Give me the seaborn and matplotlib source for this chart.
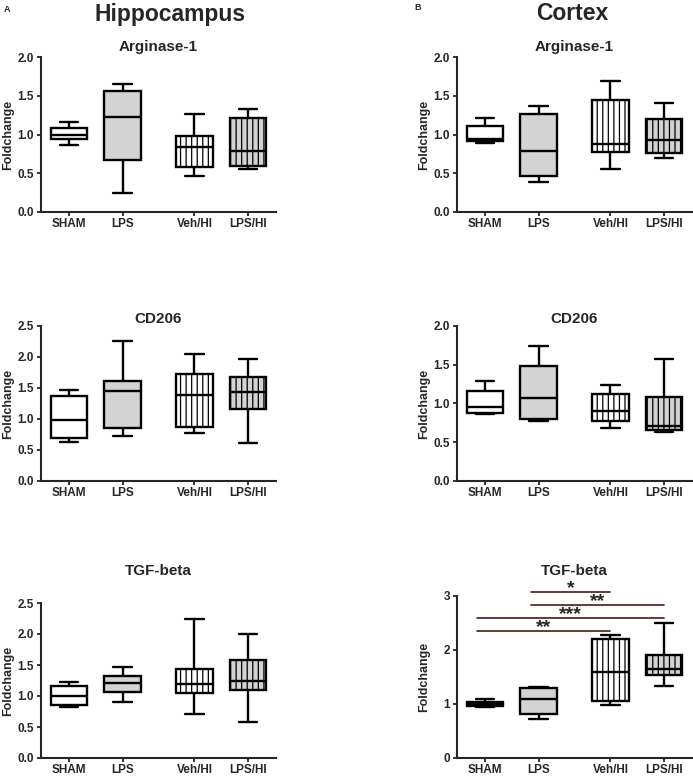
import numpy as np
import pandas as pd
import matplotlib
matplotlib.use("Agg")
import matplotlib.pyplot as plt
import seaborn as sns

# ── Data (five-number summaries: min, Q1, median, Q3, max) ──
groups = ["SHAM", "LPS", "Veh/HI", "LPS/HI"]

hip_arginase = [[0.86, 0.94, 1.00, 1.08, 1.16],
                [0.24, 0.67, 1.22, 1.56, 1.65],
                [0.46, 0.58, 0.84, 0.98, 1.27],
                [0.55, 0.60, 0.79, 1.21, 1.33]]
ctx_arginase = [[0.89, 0.92, 0.94, 1.11, 1.21],
                [0.39, 0.47, 0.79, 1.27, 1.37],
                [0.56, 0.77, 0.88, 1.44, 1.69],
                [0.70, 0.76, 0.93, 1.20, 1.41]]
hip_cd206 = [[0.63, 0.69, 0.98, 1.37, 1.46],
             [0.72, 0.86, 1.45, 1.61, 2.26],
             [0.78, 0.87, 1.38, 1.73, 2.05],
             [0.61, 1.16, 1.43, 1.67, 1.96]]
ctx_cd206 = [[0.87, 0.88, 0.95, 1.16, 1.29],
             [0.77, 0.80, 1.07, 1.49, 1.74],
             [0.68, 0.78, 0.90, 1.12, 1.24],
             [0.63, 0.66, 0.71, 1.08, 1.57]]
hip_tgf = [[0.82, 0.86, 1.00, 1.16, 1.23],
           [0.90, 1.06, 1.21, 1.32, 1.46],
           [0.71, 1.05, 1.20, 1.43, 2.24],
           [0.58, 1.09, 1.24, 1.58, 2.00]]
ctx_tgf = [[0.95, 0.97, 1.00, 1.04, 1.10],
           [0.73, 0.81, 1.09, 1.29, 1.31],
           [0.98, 1.05, 1.60, 2.20, 2.27],
           [1.33, 1.54, 1.64, 1.91, 2.50]]

# significance bars (cortex TGF-beta)
sig_from = [1, 1, 0, 0]
sig_to = [2, 3, 3, 2]
sig_label = ["*", "**", "***", "**"]
sig_height = [3.07, 2.83, 2.59, 2.35]

# ── Layout / style ───────────────────────────────────────────────────────────
W, H = 693, 778
group_pos = [0, 1, 2.34, 3.34]
fills = {"SHAM": "white", "LPS": "#d3d3d3", "Veh/HI": "white", "LPS/HI": "#d3d3d3"}
hatched = {"Veh/HI", "LPS/HI"}

sns.set_style("ticks")
plt.rcParams["font.family"] = ["Liberation Sans", "DejaVu Sans"]
plt.rcParams["font.weight"] = "bold"
plt.rcParams["axes.labelweight"] = "bold"
plt.rcParams["hatch.linewidth"] = 0.9

fig = plt.figure(figsize=(W / 100, H / 100), dpi=100)


def px_axes(left, top, width, height):
    return fig.add_axes([left / W, 1 - (top + height) / H, width / W, height / H])


def fig_text(x, y, s, **kw):
    fig.text(x / W, 1 - y / H, s, ha="center", va="center", **kw)


panels = [
    # data, title, axes rect (px), ymax, ystep, title y (px)
    (hip_arginase, "Arginase-1", (41, 57, 235, 155), 2.0, 0.5, 47),
    (ctx_arginase, "Arginase-1", (457, 57, 235, 155), 2.0, 0.5, 47),
    (hip_cd206, "CD206", (41, 326, 235, 155), 2.5, 0.5, 319),
    (ctx_cd206, "CD206", (457, 326, 235, 155), 2.0, 0.5, 319),
    (hip_tgf, "TGF-beta", (41, 603, 235, 155), 2.5, 0.5, 571),
    (ctx_tgf, "TGF-beta", (457, 596, 235, 162), 3.0, 1.0, 571),
]

axes = []
for vals, title, rect, ymax, ystep, ty in panels:
    ax = px_axes(*rect)
    rows = []
    for g, p, v in zip(groups, group_pos, vals):
        for x in v:
            rows.append({"group": g, "pos": p, "value": x})
    df = pd.DataFrame(rows)

    sns.boxplot(data=df, x="pos", y="value", hue="group", hue_order=groups,
                palette=fills, native_scale=True, whis=(0, 100), width=0.68,
                linewidth=1.7, linecolor="black", saturation=1, dodge=False,
                legend=False, ax=ax)

    # vertical line pattern for the HI groups
    for patch in ax.patches:
        xc = patch.get_path().vertices[:, 0].mean()
        gi = int(np.argmin([abs(xc - p) for p in group_pos]))
        if groups[gi] in hatched:
            patch.set_hatch("|||")

    ax.set_xlim(-0.52, 3.86)
    ax.set_ylim(0, ymax)
    ax.set_yticks(np.arange(0, ymax + 1e-9, ystep))
    if ystep >= 1:
        ax.set_yticklabels([f"{t:.0f}" for t in ax.get_yticks()])
    else:
        ax.set_yticklabels([f"{t:.1f}" for t in ax.get_yticks()])
    ax.set_xticks(group_pos)
    ax.set_xticklabels(groups)
    ax.set_xlabel("")
    ax.set_ylabel("Foldchange", fontsize=9, fontweight="bold")
    ax.yaxis.set_label_coords(-27 / 235, 0.5)

    sns.despine(ax=ax)
    for s in ["left", "bottom"]:
        ax.spines[s].set_linewidth(1.5)
    ax.tick_params(axis="both", labelsize=8.5, width=1.3, length=3, pad=2)
    ax.tick_params(axis="x", pad=1.5)
    for lab in ax.get_xticklabels() + ax.get_yticklabels():
        lab.set_fontweight("bold")

    fig_text(rect[0] + rect[2] / 2, ty, title, fontsize=11, fontweight="bold")
    axes.append(ax)

# significance bars on cortex TGF-beta
ax = axes[5]
for a, b, lab, h in zip(sig_from, sig_to, sig_label, sig_height):
    x0 = group_pos[a] - 0.14
    x1 = group_pos[b]
    ax.plot([x0, x1], [h, h], color="#4e1616", lw=1.2, clip_on=False)
    ax.text((x0 + x1) / 2, h - 0.01, lab, ha="center", va="baseline",
            fontsize=14, fontweight="bold", clip_on=False)

# column headers and panel letters
fig_text(170, 14, "Hippocampus", fontsize=16.5, fontweight="bold")
fig_text(572, 14, "Cortex", fontsize=16.5, fontweight="bold")
fig_text(7, 9, "A", fontsize=6.5, fontweight="bold")
fig_text(418, 8, "B", fontsize=6.5, fontweight="bold")

fig.savefig("out.png", dpi=100)
